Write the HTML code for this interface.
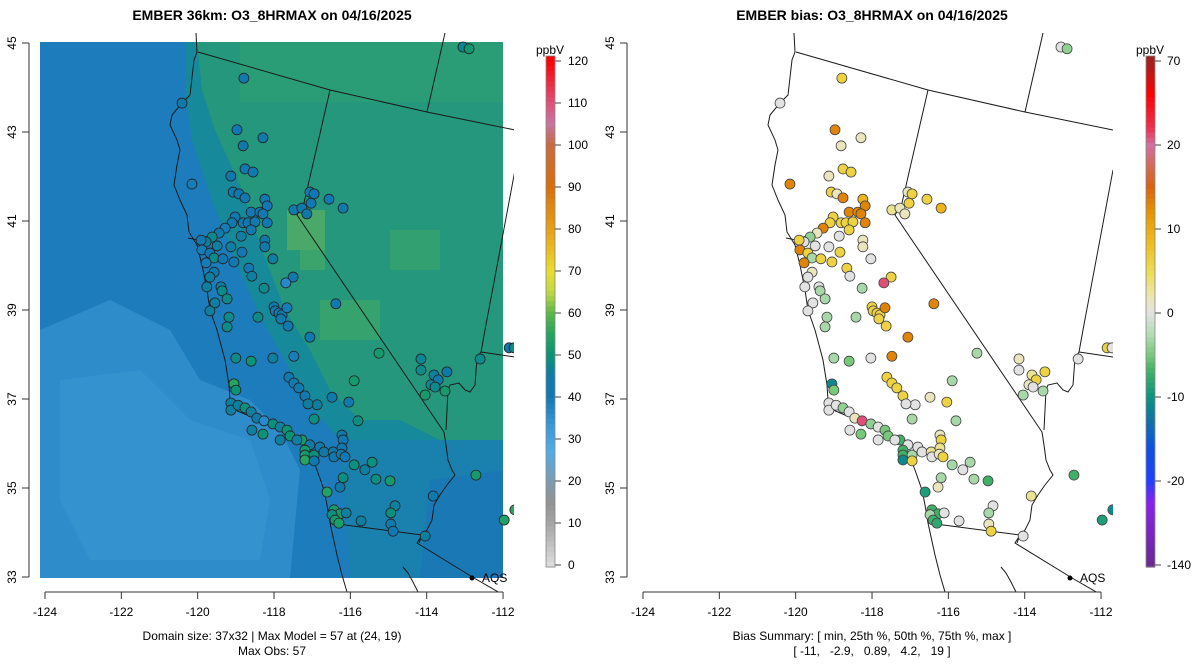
<!DOCTYPE html>
<html><head><meta charset="utf-8"><title>EMBER O3 8HRMAX</title>
<style>
html,body{margin:0;padding:0;background:#fff;}
svg{display:block;font-family:"Liberation Sans",Arial,sans-serif;}
</style></head>
<body>
<svg id="chart" width="1200" height="672" viewBox="0 0 1200 672" xmlns="http://www.w3.org/2000/svg">
<defs>
  <clipPath id="clipL"><rect x="30" y="33" width="484" height="559"/></clipPath>
  <clipPath id="clipR"><rect x="628" y="33" width="485" height="559"/></clipPath>
</defs>
<text x="272" y="20" text-anchor="middle" font-size="14" font-weight="bold">EMBER 36km: O3_8HRMAX on 04/16/2025</text>
<text x="872" y="20" text-anchor="middle" font-size="14" font-weight="bold">EMBER bias: O3_8HRMAX on 04/16/2025</text>

<g id="left-panel" clip-path="url(#clipL)">
  <g>
    <rect x="40" y="42" width="463" height="536" fill="#1c7cbc"/>
    <polygon points="40,330 110,300 170,330 200,380 250,400 280,430 300,470 290,578 40,578" fill="#2f8ccb"/>
    <polygon points="60,380 140,370 190,420 250,440 270,500 260,560 90,560 60,500" fill="#3492cf"/>
    <polygon points="185,42 503,42 503,480 420,480 390,450 340,440 305,400 285,360 262,320 235,260 212,200 192,140 185,90" fill="#168a9a"/>
    <polygon points="197,42 503,42 503,440 440,440 400,420 360,420 330,390 310,350 285,310 262,250 242,190 215,130 202,90" fill="#24977c"/>
    <polygon points="340,440 503,440 503,578 350,578" fill="#1a80ae"/>
    <polygon points="430,480 503,470 503,578 420,578" fill="#1a79b4"/>
    <rect x="287" y="210" width="38" height="40" fill="#4aa968"/>
    <rect x="300" y="250" width="25" height="20" fill="#3ba46c"/>
    <rect x="320" y="300" width="60" height="40" fill="#36a26e"/>
    <rect x="390" y="230" width="50" height="40" fill="#32a070"/>
    <rect x="240" y="42" width="263" height="60" fill="#2a9c76"/>
  </g>
  <g class="borders"></g>
  <g id="obsG"></g>
</g>

<g id="right-panel" clip-path="url(#clipR)">
  <g transform="translate(598,0)"><g class="borders"></g></g>
  <g id="biasG"></g>
</g>

<g id="axesL"></g>
<g id="axesR"></g>

<text x="272" y="640" text-anchor="middle" font-size="12">Domain size: 37x32 | Max Model = 57 at (24, 19)</text>
<text x="272" y="655" text-anchor="middle" font-size="12">Max Obs: 57</text>
<text x="872" y="640" text-anchor="middle" font-size="12">Bias Summary: [ min, 25th %, 50th %, 75th %, max ]</text>
<text x="872" y="655" text-anchor="middle" font-size="12" xml:space="preserve">[ -11,   -2.9,   0.89,   4.2,   19 ]</text>

<g id="cbarL"></g>
<g id="cbarR"></g>
</svg>
<script>
const NS="http://www.w3.org/2000/svg";
const lonTicks=[-124,-122,-120,-118,-116,-114,-112];
const latTicks=[33,35,37,39,41,43,45];
const obsTicks=[0,10,20,30,40,50,60,70,80,90,100,110,120];
const biasTicks=[70,20,10,0,-10,-20,-140];
const stLon=[-120.41,-118.79,-118.97,-118.29,-118.81,-118.76,-118.55,-119.13,-120.15,-119.07,-118.92,-118.76,-118.24,-118.18,-118.60,-118.37,-118.29,-119.02,-119.10,-118.81,-118.68,-118.50,-118.18,-118.60,-119.28,-119.44,-119.62,-119.78,-119.91,-118.86,-118.24,-117.06,-116.95,-117.03,-117.48,-117.27,-117.14,-116.56,-116.19,-113.05,-112.89,-119.89,-119.68,-119.57,-119.78,-119.49,-119.13,-119.34,-119.05,-119.57,-119.68,-118.03,-118.24,-118.84,-118.66,-118.58,-117.50,-117.69,-118.26,-119.39,-119.36,-119.76,-119.23,-119.55,-119.68,-119.18,-118.42,-119.23,-118.00,-117.97,-117.87,-117.79,-117.66,-117.82,-117.63,-116.38,-117.06,-115.25,-115.90,-114.15,-114.15,-113.81,-113.70,-113.89,-113.78,-113.47,-113.52,-114.04,-112.60,-111.84,-111.71,-116.87,-116.95,-115.80,-117.27,-117.06,-117.19,-117.19,-116.95,-117.19,-116.95,-116.80,-116.69,-116.45,-116.43,-116.22,-116.19,-116.22,-116.24,-116.14,-115.90,-115.62,-115.43,-116.19,-116.27,-115.33,-114.96,-116.61,-116.43,-116.27,-116.48,-116.40,-116.30,-116.11,-115.72,-114.83,-114.94,-114.94,-114.88,-114.04,-113.83,-112.71,-111.97,-111.69,-119.00,-118.60,-118.03,-119.05,-119.00,-119.13,-119.13,-118.94,-118.76,-118.60,-118.45,-118.26,-118.03,-117.84,-117.66,-117.58,-117.40,-117.84,-118.29,-118.58,-117.61,-117.48,-117.35,-117.19,-117.11,-117.48,-116.48,-116.04];
const stLat=[43.65,44.21,43.05,42.87,42.69,42.17,42.10,42.01,41.83,41.65,41.61,41.52,41.49,41.34,41.20,41.20,41.16,41.09,40.96,40.96,40.96,40.98,40.96,40.80,40.84,40.73,40.64,40.53,40.57,40.66,40.57,41.65,41.61,41.40,41.25,41.29,41.16,41.49,41.29,44.91,44.87,40.35,40.28,40.17,40.06,40.44,40.42,40.15,40.08,39.85,39.74,40.15,40.42,40.30,39.94,39.76,39.74,39.61,39.49,39.52,39.43,39.52,39.25,39.16,38.98,38.84,38.84,38.62,39.07,38.98,38.93,38.89,39.05,38.80,38.64,39.14,38.39,38.03,37.41,37.90,37.65,37.54,37.43,37.32,37.27,37.61,37.18,37.09,37.90,38.15,38.15,36.87,36.55,36.51,36.08,35.97,35.85,35.74,35.74,35.63,35.61,35.92,35.81,35.81,35.70,36.19,36.08,35.90,35.76,35.70,35.52,35.41,35.58,35.23,35.02,35.20,35.16,34.91,34.51,34.42,34.40,34.28,34.21,34.44,34.26,34.60,34.44,34.19,34.03,33.92,34.82,35.29,34.28,34.51,37.92,37.85,37.92,37.34,37.20,36.91,36.75,36.86,36.80,36.71,36.57,36.51,36.44,36.37,36.30,36.17,36.08,36.08,36.21,36.30,37.49,37.36,37.25,37.07,36.89,37.96,37.04,36.93];
const stBias=[0,6,13,1.5,1.5,6,6,1.5,13,6,1.5,13,9,13,13,13,13,6,6,6,6,6,13,6,13,1.5,-4,0,6,0,1.5,1.5,6,6,3,1.5,1.5,6,9,0,-4,13,6,-3,13,0,0,6,6,1.5,0,0,1.5,6,6,0,6,25,-3,0,-3,0,-3,0,0,-3,-3,-3,6,6,6,6,13,6,6,13,13,-3,-3,1.5,0,3,6,1.5,0,6,-3,-3,0,6,0,0,-3,-3,-7,0,-7,-7,-3,-11,6,0,0,3,0,1.5,6,3,1.5,6,-3,0,-3,-3,1.5,-3,-7,-9,-7,-7,-3,-7,-8,0,0,0,-3,1.5,6,0,3,-7,-9,-11,-3,-5,0,-11,-5,0,0,0,-4,0,1.5,25,-4,0,-5,-5,0,0,-5,0,6,6,6,6,0,13,1.5,6];
const stObs=[44,43,41,44,44,43,43,44,39,43,44,41,43,41,41,41,41,43,43,43,43,43,41,43,39,44,48,46,41,46,44,45,41,41,43,45,45,42,43,47,51,39,41,48,39,46,46,41,41,44,46,46,44,41,41,46,43,36,48,46,48,46,48,46,46,48,48,48,43,43,43,43,39,43,43,42,42,52,52,47,48,46,44,47,48,44,52,52,48,44,48,46,49,49,52,45,52,52,49,55,41,45,45,43,45,44,41,43,44,41,49,46,49,49,45,49,52,54,52,52,49,52,53,46,46,46,49,45,41,46,43,52,54,55,48,50,46,55,50,46,46,46,49,46,45,36,49,46,50,50,46,46,50,46,43,43,43,43,46,39,45,43];

function X(lon,off){return off+45+(lon+124)*38.17;}
function Y(lat){return 43+(45-lat)*44.5;}
function hex(c){return [parseInt(c.slice(1,3),16),parseInt(c.slice(3,5),16),parseInt(c.slice(5,7),16)];}
function interp(stops,v){
  if(v<=stops[0][0])return stops[0][1];
  for(let i=1;i<stops.length;i++){if(v<=stops[i][0]){const a=stops[i-1],b=stops[i];const t=(v-a[0])/(b[0]-a[0]);const A=hex(a[1]),B=hex(b[1]);return "rgb("+A.map((x,k)=>Math.round(x+(B[k]-x)*t)).join(",")+")";}}
  return stops[stops.length-1][1];
}
const oStops=[[0,"#dcdcdc"],[10,"#a4a4a4"],[15,"#929292"],[20,"#7c9cb2"],[27,"#52ace6"],[33,"#3a9ad8"],[40,"#1178b4"],[45,"#0f7aa8"],[50,"#0b9474"],[55,"#26a460"],[60,"#5eb848"],[65,"#c0d840"],[70,"#eadc30"],[75,"#ecbc20"],[80,"#e8a012"],[90,"#d8700a"],[100,"#c86a40"],[105,"#c874a0"],[110,"#e0507a"],[120,"#ff0000"]];
const bStops=[[-140,"#6a2a90"],[-50,"#8a20f0"],[-20,"#2040ff"],[-16,"#1050e0"],[-13,"#1070a8"],[-10,"#0c9480"],[-7,"#40b068"],[-5,"#78c87c"],[-2.5,"#b4dcb4"],[0,"#e2e2e2"],[2,"#ece6b0"],[5,"#ecdc50"],[8,"#eec024"],[12,"#e49400"],[15,"#d86410"],[20,"#d070a0"],[30,"#ee3050"],[50,"#ff0000"],[70,"#a02020"]];
function el(tag,attrs,parent){const e=document.createElementNS(NS,tag);for(const k in attrs)e.setAttribute(k,attrs[k]);parent.appendChild(e);return e;}

const borderPaths=[
 ["coastline","196,33 197,52 194,60 190,95 182,103 172,115 170,125 177,140 180,150 177,165 174,185 180,200 187,215 189,232 197,245 202,265 207,290 210,310 217,330 225,360 229,385 230,400 235,410 247,415 262,420 282,428 297,437 307,445 317,470 324,490 327,505 330,523 337,555 342,575 347,592"],
 ["bay","188,238 198,240 208,236 214,241 222,246"],
 ["oregon-border","198,52 330,90 427,112 515,130"],
 ["idaho-border","427,112 445,33"],
 ["ca-nv-border","330,90 304,203 297,215 444,432 446,445 448,460 452,470 455,475 447,485 440,495 434,505 432,520 427,530 422,535 419,543"],
 ["nv-ut-border","485,330 481,352 477,358 475,385 470,392 465,390 459,383 450,385 448,390 446,430"],
 ["az-ut-border","481,352 515,357"],
 ["ut-border","515,170 485,330"],
 ["mexico-border","330,523 422,535 417,543 474,578 500,593"],
 ["baja-coast","403,567 408,573 413,582 418,592"]
];
document.querySelectorAll(".borders").forEach(g=>{
  borderPaths.forEach(b=>{
    const p=el("polyline",{points:b[1],fill:"none",stroke:"#1a1a1a","stroke-width":"1"},g);
    
    
  });
});

const obsG=document.getElementById("obsG"),biasG=document.getElementById("biasG");
for(let i=0;i<stLon.length;i++){
  const c1=el("circle",{cx:X(stLon[i],0),cy:Y(stLat[i]),r:5,fill:interp(oStops,stObs[i]),stroke:"#222","stroke-width":"0.8"},obsG);
  
  
  const c2=el("circle",{cx:X(stLon[i],598),cy:Y(stLat[i]),r:5,fill:interp(bStops,stBias[i]),stroke:"#444","stroke-width":"0.8"},biasG);
  
  
}
[0,598].forEach(off=>{
  const g=document.getElementById(off?"right-panel":"left-panel");
  const d=el("circle",{cx:472+off,cy:578,r:2.5,fill:"#000"},g);
  
  
  const t=el("text",{x:482+off,y:582,"font-size":"12"},g);
  t.textContent="AQS";
  
  
});

[[0,"axesL"],[598,"axesR"]].forEach(([off,id])=>{
  const g=document.getElementById(id);
  const xa=el("line",{x1:X(-124,off),x2:X(-112,off),y1:592,y2:592,stroke:"#333"},g);
  
  
  lonTicks.forEach(v=>{
    const x=X(v,off);
    el("line",{x1:x,x2:x,y1:592,y2:599,stroke:"#333"},g);
    const t=el("text",{x:x,y:616,"text-anchor":"middle","font-size":"12"},g);
    t.textContent=String(v);
    
    
  });
  const ya=el("line",{x1:29+off,x2:29+off,y1:Y(45),y2:Y(33),stroke:"#333"},g);
  
  
  latTicks.forEach(v=>{
    const y=Y(v);
    el("line",{x1:22+off,x2:29+off,y1:y,y2:y,stroke:"#333"},g);
    const t=el("text",{x:12+off,y:y,"text-anchor":"middle","font-size":"12",transform:"rotate(-90 "+(12+off)+" "+y+")","dominant-baseline":"central"},g);
    t.textContent=String(v);
    
    
  });
});

function cbar(id,x,ticks,valAt,stops){
  const g=document.getElementById(id);
  const top=56,bot=567;
  const n=100;
  for(let i=0;i<n;i++){
    const y0=top+(bot-top)*i/n;
    const yc=y0+(bot-top)/n/2;
    el("rect",{x:x,y:y0,width:9,height:(bot-top)/n+0.6,fill:interp(stops,valAt(yc))},g);
  }
  el("rect",{x:x,y:top,width:9,height:bot-top,fill:"none",stroke:"#888","stroke-width":"0.8"},g);
  const h=el("text",{x:x+4,y:54,"text-anchor":"middle","font-size":"12"},g);
  h.textContent="ppbV";
  
  
}
cbar("cbarL",546,obsTicks,y=>(565-y)/504*120,oStops);
{const g=document.getElementById("cbarL");
 obsTicks.forEach(v=>{const y=565-v/120*504;el("line",{x1:555,x2:561,y1:y,y2:y,stroke:"#444"},g);
  const t=el("text",{x:568,y:y+4,"font-size":"12"},g);t.textContent=String(v);
  
  });}
function biasY(i){return 61+i*84;}
cbar("cbarR",1146,biasTicks,y=>{let f=(y-61)/84;if(f<0)f=0;if(f>6)f=6;const i=Math.min(5,Math.floor(f));const t=f-i;return biasTicks[i]+(biasTicks[i+1]-biasTicks[i])*t;},bStops);
{const g=document.getElementById("cbarR");
 biasTicks.forEach((v,i)=>{const y=biasY(i);el("line",{x1:1155,x2:1161,y1:y,y2:y,stroke:"#444"},g);
  const t=el("text",{x:1167,y:y+4,"font-size":"12"},g);t.textContent=String(v);
  
  });}
</script>
</body></html>
